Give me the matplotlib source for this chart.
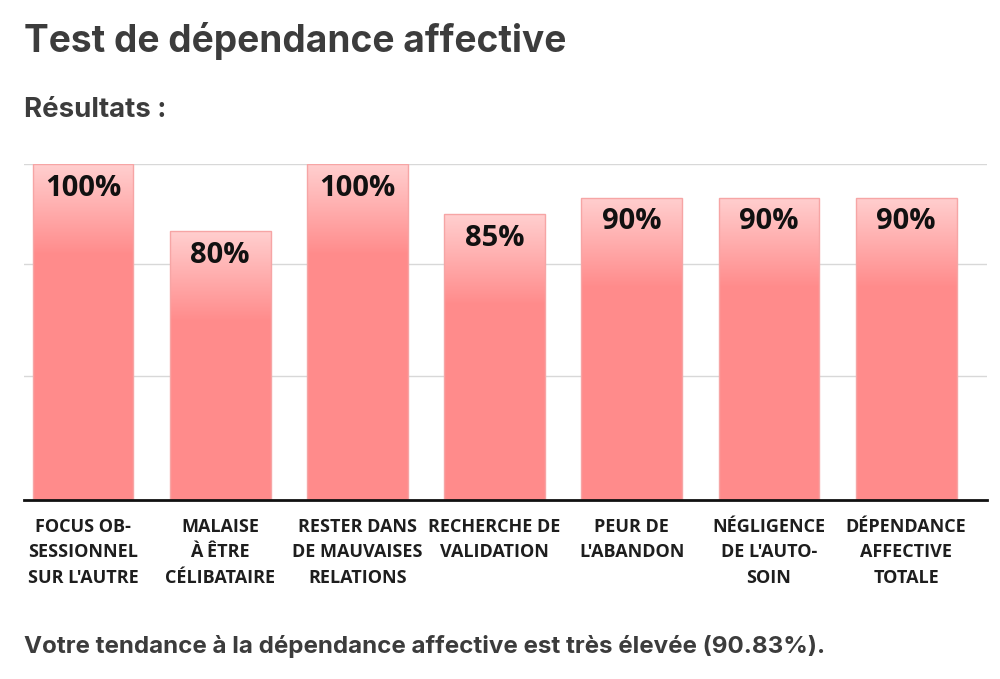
import numpy as np
import matplotlib
matplotlib.use('Agg')
import matplotlib.pyplot as plt
from matplotlib.colors import LinearSegmentedColormap

# chart data
categories = [
    'FOCUS OB-\nSESSIONNEL\nSUR L\'AUTRE',
    'MALAISE\nÀ ÊTRE\nCÉLIBATAIRE',
    'RESTER DANS\nDE MAUVAISES\nRELATIONS',
    'RECHERCHE DE\nVALIDATION',
    'PEUR DE\nL\'ABANDON',
    'NÉGLIGENCE\nDE L\'AUTO-\nSOIN',
    'DÉPENDANCE\nAFFECTIVE\nTOTALE',
]
scores = [100, 80, 100, 85, 90, 90, 90]
overall = 90.83

title = 'Test de dépendance affective'
subtitle = 'Résultats :'
summary = f'Votre tendance à la dépendance affective est très élevée ({overall:.2f}%).'

BAR = '#ff8b8b'
BAR_TOP = '#ffcfcf'
EDGE = '#f6a5a5'
TEXT = '#3c3c3c'

fig = plt.figure(figsize=(10, 6.79), dpi=100)
ax = fig.add_axes([0.024, 1 - 500 / 679, 0.963, 336 / 679])

x = np.arange(len(categories))
width = 0.736
fade = 27  # gradient depth in data units

grad = LinearSegmentedColormap.from_list('fade', [BAR, BAR_TOP])
ramp = np.linspace(0, 1, 128).reshape(-1, 1)

bars = ax.bar(x, scores, width=width, color=BAR, zorder=2)
for b, v in zip(bars, scores):
    x0 = b.get_x()
    im = ax.imshow(ramp, cmap=grad, aspect='auto', origin='lower',
                   extent=(x0, x0 + width, v - fade, v), zorder=3)
    im.set_clip_path(b)
ax.bar(x, scores, width=width, facecolor='none', edgecolor=EDGE,
       linewidth=1, zorder=4)

for xi, v in zip(x, scores):
    ax.text(xi, v - 7.2, f'{v}%', ha='center', va='center',
            fontsize=21, fontweight='bold', color='#111111',
            family='Open Sans', zorder=5)

for gy in [36.9, 70.2, 100]:
    ax.axhline(gy, color='#d8d8d8', linewidth=1, zorder=1)

ax.set_xlim(-0.43, 6.589)
ax.set_ylim(0, 100)
ax.set_yticks([])
ax.set_xticks(x)
ax.set_xticklabels(categories, fontsize=13, fontweight='bold',
                   family='Open Sans', color='#1e1e1e', linespacing=1.52)
ax.tick_params(axis='x', length=0, pad=13)
for s in ['left', 'right', 'top']:
    ax.spines[s].set_visible(False)
ax.spines['bottom'].set_linewidth(2)
ax.spines['bottom'].set_color('#111111')
ax.spines['bottom'].set_zorder(6)

fig.text(0.024, 1 - 52 / 679, title, fontsize=26.7, fontweight='bold',
         family='Inter', color=TEXT, va='baseline')
fig.text(0.024, 1 - 117 / 679, subtitle, fontsize=19.9, fontweight='bold',
         family='Inter', color=TEXT, va='baseline')
fig.text(0.024, 1 - 653 / 679, summary, fontsize=17.4, fontweight='bold',
         family='Inter', color=TEXT, va='baseline')

fig.savefig('out.png', dpi=100, facecolor='white')
